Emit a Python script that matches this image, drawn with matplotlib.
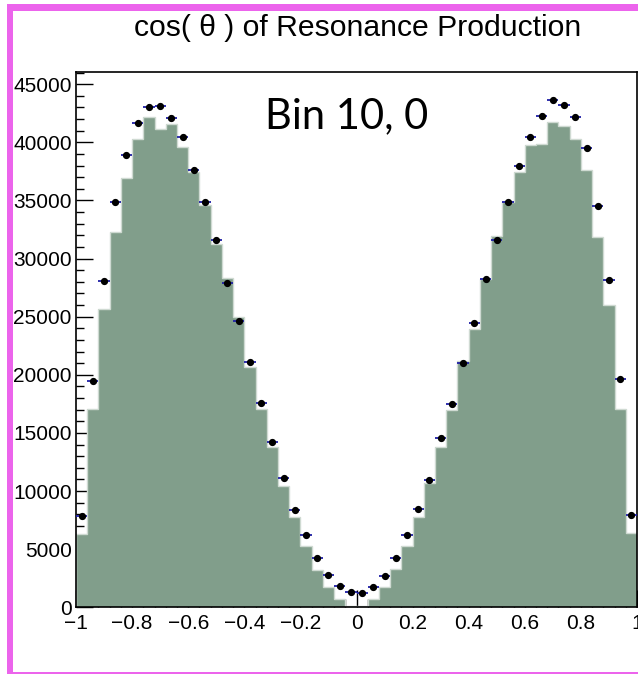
import numpy as np
import matplotlib
matplotlib.use("Agg")
import matplotlib.pyplot as plt
from matplotlib.patches import Rectangle
from matplotlib.ticker import MultipleLocator, FuncFormatter

# cos(theta) binning: 50 bins on [-1, 1]
bin_edges = np.linspace(-1.0, 1.0, 51)

# Reconstructed (stacked) distribution, one value per bin
model_counts = [
    6330, 17100, 25650, 32300, 36900, 40280, 42170, 41170, 41540, 39570,
    37440, 34600, 31220, 28300, 24950, 20700, 17040, 13800, 10450, 7740,
    5270, 3235, 1720, 714, 140, 140, 714, 1720, 3295, 5247,
    7794, 10692, 13763, 16972, 21150, 23940, 28215, 31914, 34860, 37420,
    39770, 39828, 41746, 41402, 40258, 37643, 31880, 26004, 17085, 6366,
]

# Measured counts, one value per bin
data_counts = [
    7854, 19441, 28043, 34865, 38880, 41686, 43063, 43120, 42116, 40456,
    37643, 34865, 31570, 27870, 24654, 21127, 17548, 14219, 11097, 8370,
    6245, 4267, 2806, 1806, 1316, 1230, 1772, 2692, 4241, 6194,
    8482, 10925, 14538, 17488, 20989, 24484, 28244, 31570, 34865, 37990,
    40430, 42290, 43640, 43183, 42177, 39510, 34546, 28129, 19639, 7914,
]

title_text = "cos( \u03b8 ) of Resonance Production"
label_text = "Bin 10, 0"

W, H, DPI = 638, 674, 100
fig = plt.figure(figsize=(W / DPI, H / DPI), dpi=DPI)
fig.patch.set_facecolor("white")

def px_x(x):
    return x / W

def px_y(y):
    return (H - y) / H

ax = fig.add_axes([px_x(76), px_y(607.3), (637 - 76) / W, (607.3 - 72) / H])
ax.set_axisbelow(True)

fill_color = "#819e8b"
edge_color = "#cfdad2"

model = np.asarray(model_counts, dtype=float)
data = np.asarray(data_counts, dtype=float)
centers = 0.5 * (bin_edges[:-1] + bin_edges[1:])
half_width = 0.5 * np.diff(bin_edges)

ax.stairs(model, bin_edges, fill=True, color=fill_color, zorder=1)
ax.stairs(model, bin_edges, fill=False, color=edge_color, lw=1.0, zorder=1.2)

ax.errorbar(centers, data, xerr=half_width, yerr=np.sqrt(data), fmt="o",
            color="black", ms=4.2, ecolor="#1f1fa6", elinewidth=1.3,
            capsize=0, zorder=3)

ax.set_xlim(-1, 1)
ax.set_ylim(0, 46050)

ax.xaxis.set_major_locator(MultipleLocator(0.2))
ax.xaxis.set_minor_locator(MultipleLocator(0.04))
ax.yaxis.set_major_locator(MultipleLocator(5000))
ax.yaxis.set_minor_locator(MultipleLocator(1000))

def fmt_x(v, pos):
    s = "%g" % round(v, 6)
    if s == "-0":
        s = "0"
    return s.replace("-", "\u2212")

ax.xaxis.set_major_formatter(FuncFormatter(fmt_x))
ax.yaxis.set_major_formatter(FuncFormatter(lambda v, p: "%d" % round(v)))

tick_font = "Liberation Sans"
ax.tick_params(which="both", direction="in", top=False, right=False,
               colors="black", width=1.0)
ax.tick_params(which="major", length=12, labelsize=15)
ax.tick_params(which="minor", length=6)
ax.tick_params(axis="y", which="major", pad=3)
ax.tick_params(axis="x", which="major", pad=5)
for lab in ax.get_xticklabels() + ax.get_yticklabels():
    lab.set_fontfamily(tick_font)

for sp in ax.spines.values():
    sp.set_linewidth(1.2)
    sp.set_color("black")

fig.text(px_x(357.5), px_y(36), title_text, ha="center", va="baseline",
         fontsize=21.7, family=tick_font)
fig.text(px_x(265), px_y(128), label_text, ha="left", va="baseline",
         fontsize=30, family="Lato")

# Pink canvas frame, drawn as three filled bands (left, top, bottom)
frame_color = "#ec64ec"
bands = [
    (7, 4, 13, 674),     # left
    (7, 4, 638, 11),     # top
    (7, 671.5, 638, 674),  # bottom
]
for x0, y0, x1, y1 in bands:
    fig.patches.append(Rectangle((px_x(x0), px_y(y1)), px_x(x1) - px_x(x0),
                                 px_y(y0) - px_y(y1),
                                 transform=fig.transFigure,
                                 facecolor=frame_color, edgecolor="none",
                                 clip_on=False))

fig.savefig("out.png", dpi=DPI)
